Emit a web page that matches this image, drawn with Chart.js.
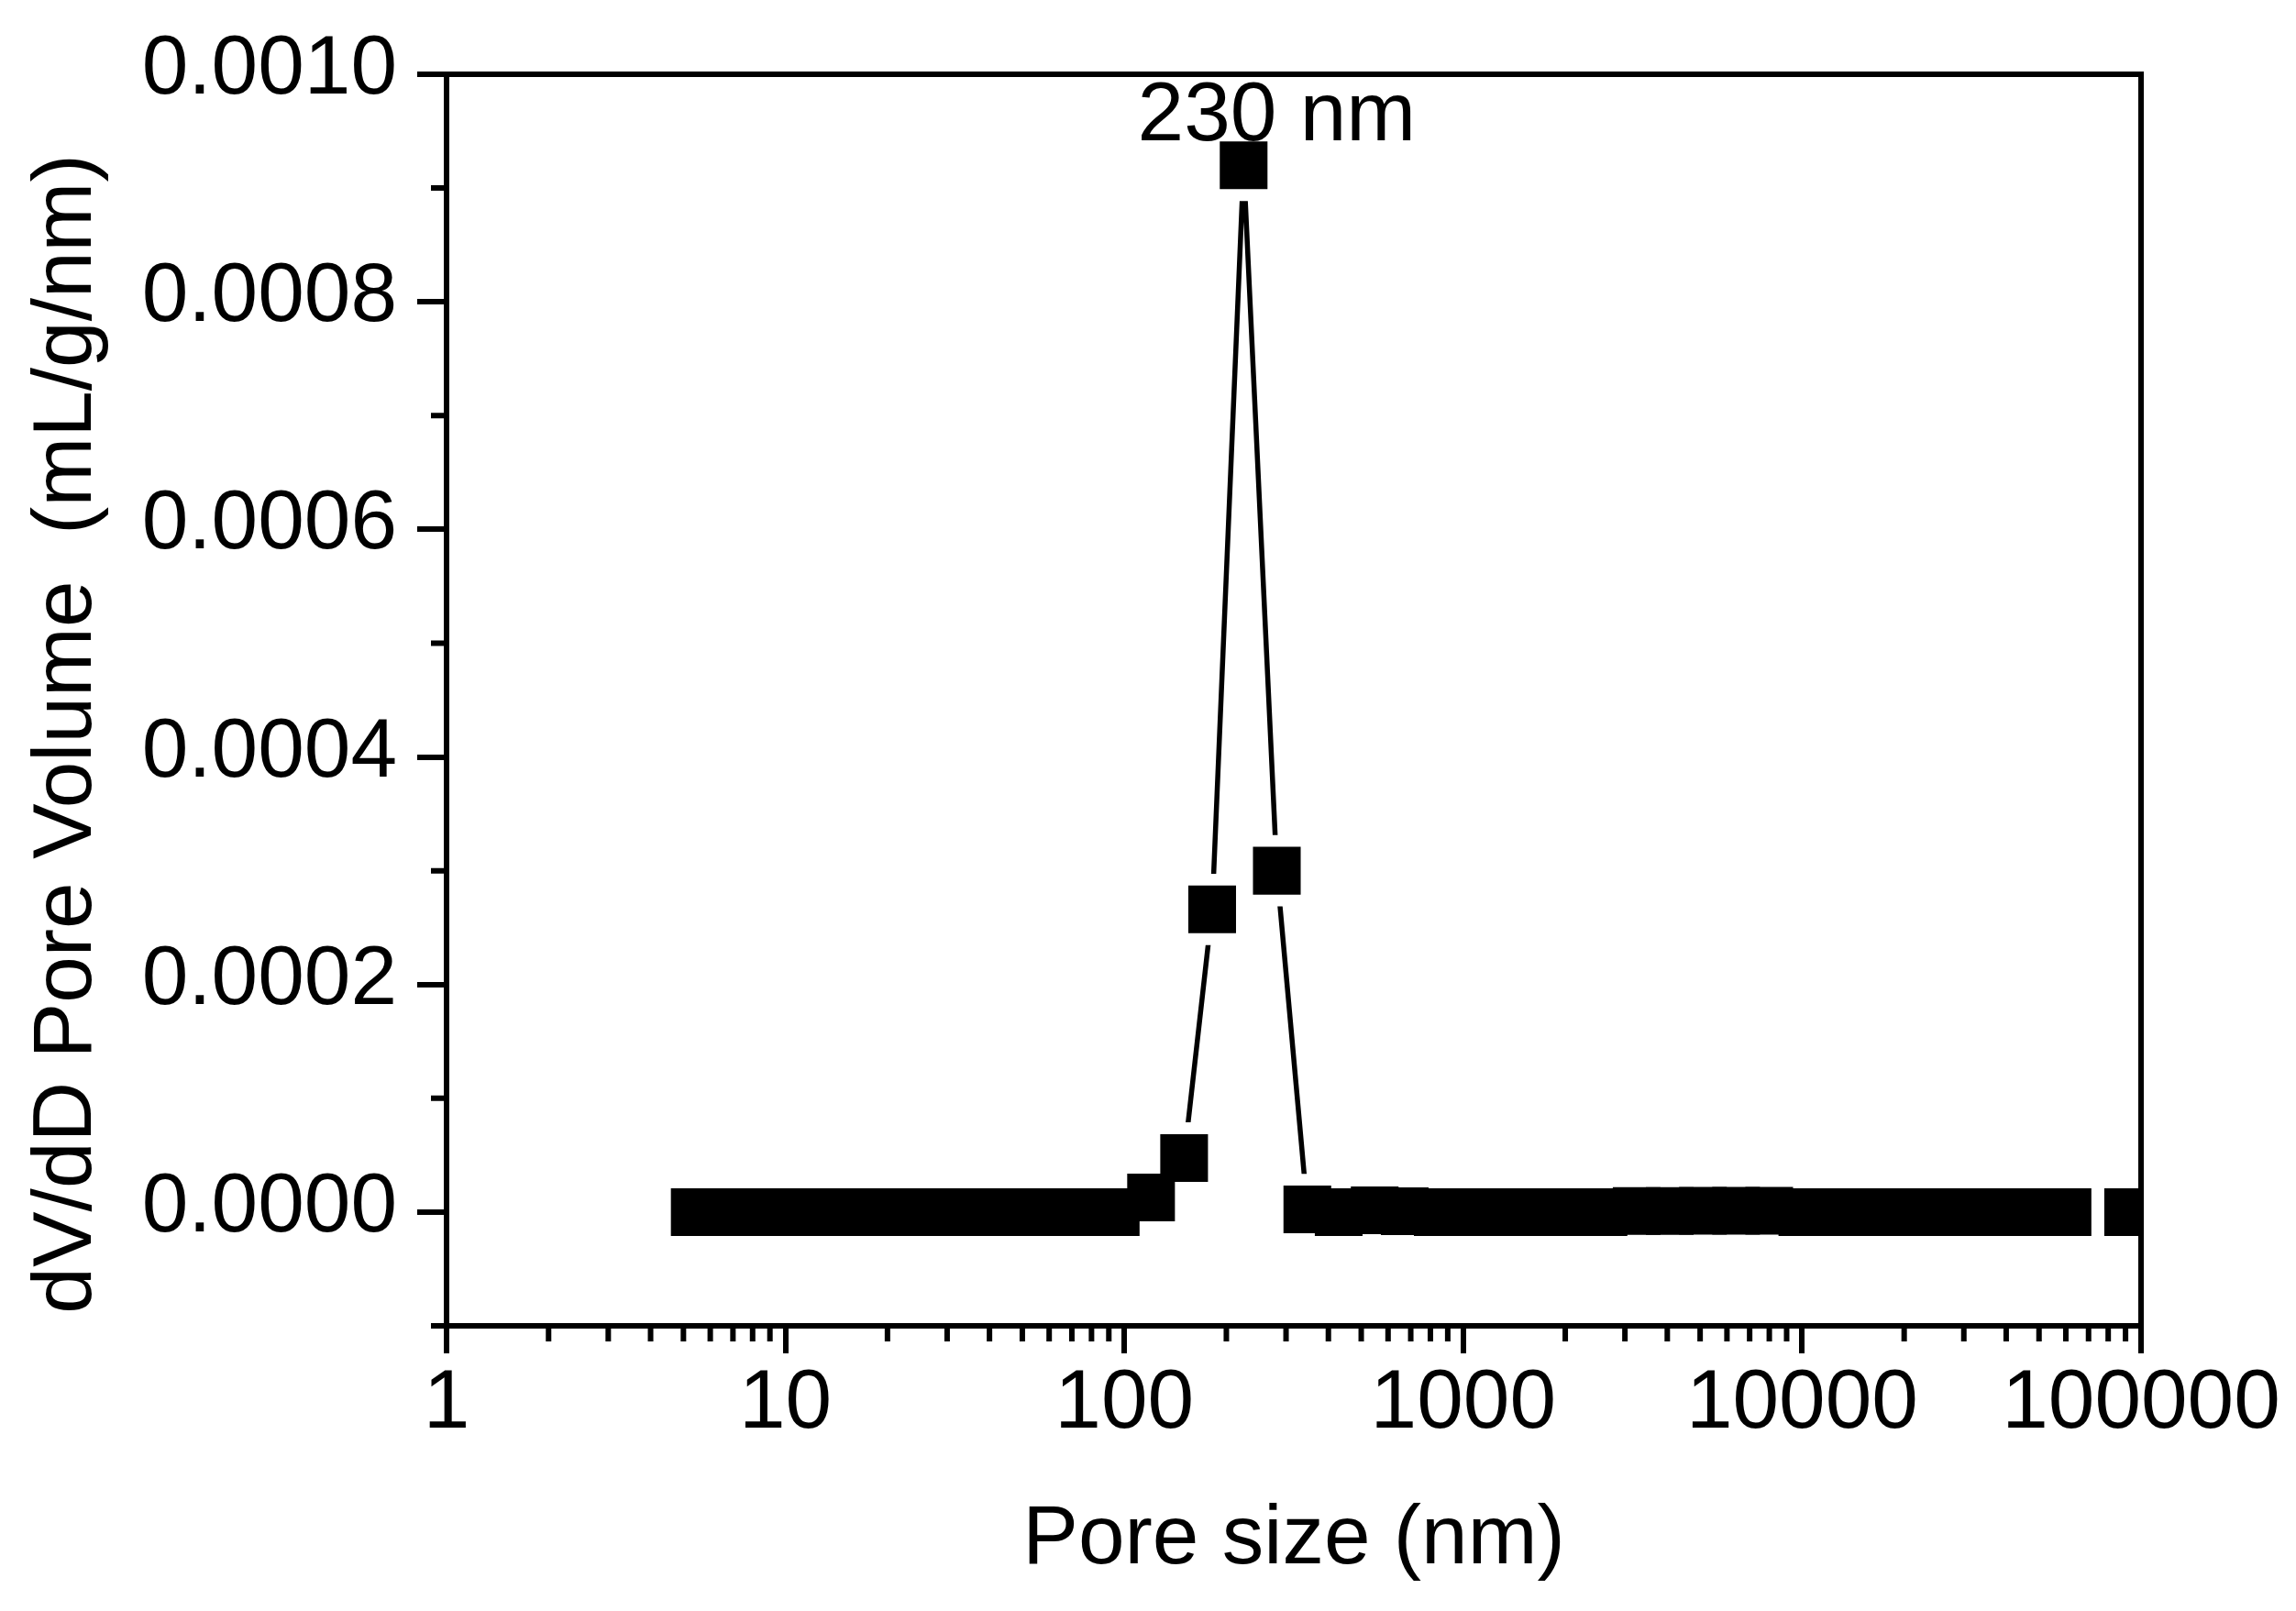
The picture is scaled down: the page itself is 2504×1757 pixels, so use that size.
<!DOCTYPE html>
<html>
<head>
<meta charset="utf-8">
<script src="https://cdn.jsdelivr.net/npm/chart.js@4.4.0/dist/chart.umd.min.js"></script>
<style>
html,body{margin:0;padding:0;background:#fff;overflow:hidden}
canvas{display:block}
</style>
</head>
<body>
<canvas id="c" width="2504" height="1757" style="width:2504px;height:1757px"></canvas>
<script>
// ---- data ----
const poreSize = [5.4, 6.8, 8.4, 10.5, 13.1, 16.2, 20.3, 25.1, 31.5, 39.2, 48.7, 60.9, 75.6, 94.3,
  119.9, 150.1, 181.6, 224.9, 281.8, 346.7, 429, 548, 672,
  841, 1053, 1319, 1653, 2070, 2593, 3248, 4068, 5096, 6383, 7995,
  10014, 12543, 15711, 19679, 24650, 30876, 38674, 48441, 60676, 91600];
const dVdD = [0, 0, 0, 0, 0, 0, 0, 0, 0, 0, 0, 0, 0, 0,
  0.0000129, 0.0000475, 0.000266, 0.00092, 0.0003, 0.0000023, 0, 0.0000015, 0.0000007,
  0, 0, 0, 0, 0, 0, 0.0000009, 0.000001, 0.0000012, 0.0000012, 0.0000012,
  0, 0, 0, 0, 0, 0, 0, 0, 0, 0];
const xTickValues = [1, 10, 100, 1000, 10000, 100000];
const xMinorMultipliers = [2, 3, 4, 5, 6, 7, 8, 9];
const yTickValues = [0, 0.0002, 0.0004, 0.0006, 0.0008, 0.0010];
const yMinorTicks = [-0.0001, 0.0001, 0.0003, 0.0005, 0.0007, 0.0009];
const xTitle = 'Pore size (nm)';
const yTitle = 'dV/dD Pore Volume  (mL/g/nm)';
const peakLabel = '230 nm';
const peakIndex = 17;

const FONT = "'Liberation Sans', Arial, Helvetica, sans-serif";
const FS = 91;
const LW = 6;

const points = poreSize.map((v, i) => ({x: v, y: dVdD[i]}));

const decor = {
  id: 'decor',
  afterDatasetsDraw(chart) {
    const {ctx, chartArea: a, scales: {x, y}} = chart;
    ctx.save();
    ctx.strokeStyle = '#000';
    ctx.lineWidth = LW;
    ctx.lineCap = 'butt';
    // top and right frame lines
    ctx.beginPath();
    ctx.moveTo(a.left - LW / 2, a.top);
    ctx.lineTo(a.right + LW / 2, a.top);
    ctx.moveTo(a.right, a.top);
    ctx.lineTo(a.right, a.bottom);
    ctx.stroke();
    // minor ticks, x
    ctx.beginPath();
    for (let d = 0; d < xTickValues.length - 1; d++) {
      for (const m of xMinorMultipliers) {
        const px = x.getPixelForValue(xTickValues[d] * m);
        ctx.moveTo(px, a.bottom);
        ctx.lineTo(px, a.bottom + 17);
      }
    }
    // minor ticks, y
    for (const v of yMinorTicks) {
      const py = y.getPixelForValue(v);
      ctx.moveTo(a.left, py);
      ctx.lineTo(a.left - 17, py);
    }
    ctx.stroke();
    // peak annotation
    ctx.fillStyle = '#000';
    ctx.font = FS + 'px ' + FONT;
    ctx.textAlign = 'center';
    ctx.textBaseline = 'alphabetic';
    const px = x.getPixelForValue(poreSize[peakIndex]);
    const py = y.getPixelForValue(dVdD[peakIndex]);
    ctx.fillText(peakLabel, px + 36, py - 27);
    // y axis title
    ctx.translate(99, (a.top + a.bottom) / 2 + 37);
    ctx.rotate(-Math.PI / 2);
    ctx.fillText(yTitle, 0, 0);
    ctx.restore();
  }
};

new Chart(document.getElementById('c'), {
  type: 'scatter',
  data: {
    datasets: [
      { // connecting line
        data: points, showLine: true, borderColor: '#000', borderWidth: 5.5,
        pointRadius: 0, fill: false, tension: 0, clip: 0, order: 3
      },
      { // white gap around the markers (line gaps)
        data: points, showLine: false, pointStyle: 'rect', pointRadius: 55,
        pointBackgroundColor: '#fff', pointBorderWidth: 0, clip: 0, order: 2
      },
      { // square markers
        data: points, showLine: false, pointStyle: 'rect', pointRadius: 36.8,
        pointBackgroundColor: '#000', pointBorderWidth: 0, clip: 0, order: 1
      }
    ]
  },
  options: {
    responsive: false,
    devicePixelRatio: 1,
    animation: false,
    events: [],
    layout: {padding: {left: 0, top: 81, right: 169, bottom: 0}},
    plugins: {legend: {display: false}, tooltip: {enabled: false}},
    scales: {
      x: {
        type: 'logarithmic', min: 1, max: 100000,
        afterBuildTicks: (s) => { s.ticks = xTickValues.map(v => ({value: v, major: true})); },
        afterFit: (s) => { s.height = 311; },
        ticks: {
          autoSkip: false, maxRotation: 0, minRotation: 0, padding: 1, color: '#000',
          font: {family: FONT, size: FS},
          callback: (v) => String(v)
        },
        grid: {drawOnChartArea: false, drawTicks: true, tickLength: 30, tickWidth: LW, tickColor: '#000', lineWidth: LW, color: '#000'},
        border: {display: true, width: LW, color: '#000'},
        title: {display: true, text: xTitle, color: '#000', font: {family: FONT, size: FS}, padding: {top: 0, bottom: 22}}
      },
      y: {
        type: 'linear', min: -0.0001, max: 0.0010,
        afterBuildTicks: (s) => { s.ticks = yTickValues.map(v => ({value: v})); },
        afterFit: (s) => { s.width = 487; },
        ticks: {
          padding: 22, color: '#000', labelOffset: -4,
          font: {family: FONT, size: FS},
          callback: (v) => Number(v).toFixed(4)
        },
        grid: {drawOnChartArea: false, drawTicks: true, tickLength: 32, tickWidth: LW, tickColor: '#000', lineWidth: LW, color: '#000'},
        border: {display: true, width: LW, color: '#000'}
      }
    }
  },
  plugins: [decor]
});
</script>
</body>
</html>
